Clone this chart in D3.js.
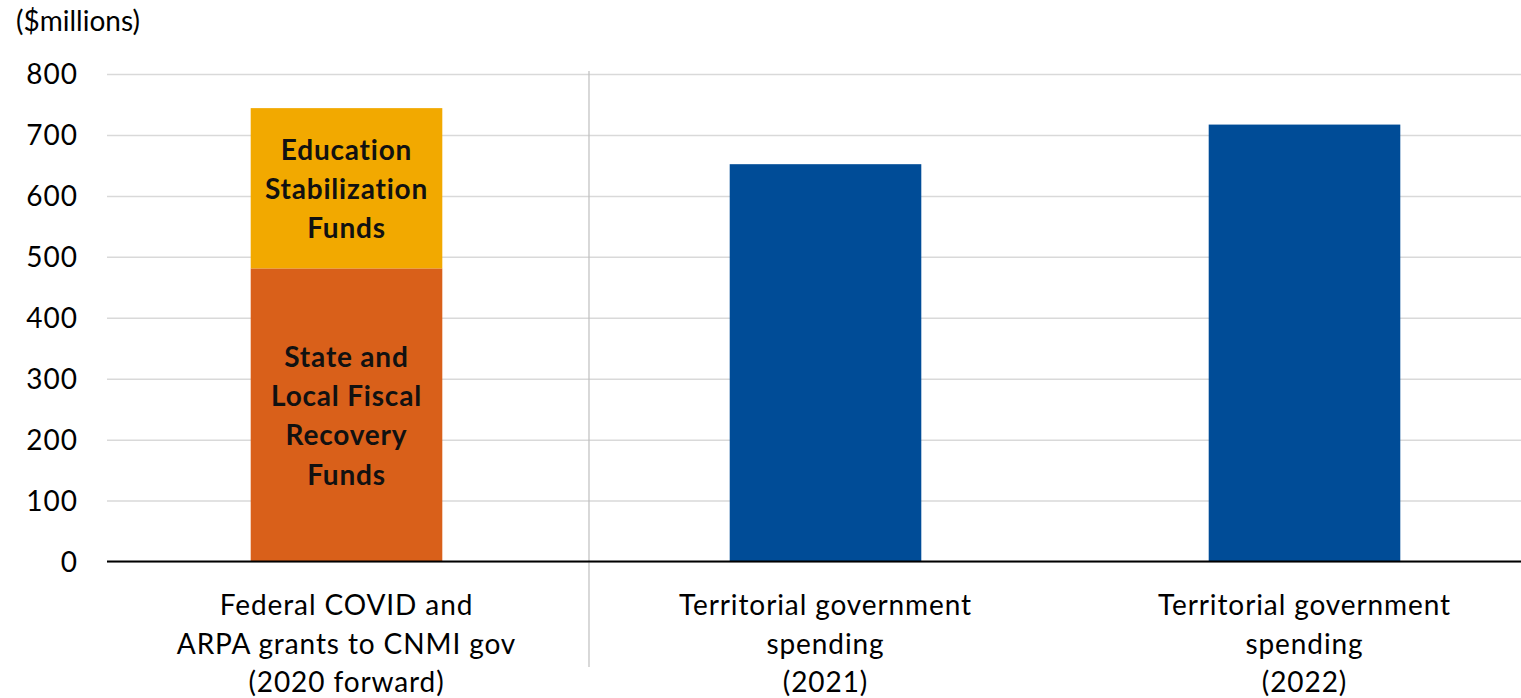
<!DOCTYPE html>
<html>
<head>
<meta charset="utf-8">
<script src="https://cdn.jsdelivr.net/npm/d3@7"></script>
<style>
  html, body { margin: 0; padding: 0; background: #fff; }
  svg { display: block; }
  text { font-family: Lato, "Open Sans", sans-serif; fill: #000; }
</style>
</head>
<body>
<svg id="chart" width="1521" height="698"></svg>
<script>
// ---- data ----
const categories = ["federal", "terr2021", "terr2022"];
const categoryLabels = [
  ["Federal COVID and", "ARPA grants to CNMI gov", "(2020 forward)"],
  ["Territorial government", "spending", "(2021)"],
  ["Territorial government", "spending", "(2022)"]
];
const stateLocalFunds = [481, 0, 0];
const educationFunds = [263, 0, 0];
const territorialSpending = [0, 652, 717];
const yTicks = [0, 100, 200, 300, 400, 500, 600, 700, 800];
const segmentLabels = [
  ["State and", "Local Fiscal", "Recovery", "Funds"],
  ["Education", "Stabilization", "Funds"],
  []
];
const unitLabel = "($millions)";

(function () {
  const svg = d3.select("#chart");
  const pL = 107, pR = 1544, pT = 74, pB = 561.5;
  const colors = ["#D9601A", "#F2A900", "#004C97"];

  const x = d3.scaleBand().domain(categories).range([pL, pR]).paddingInner(0.6).paddingOuter(0.3);
  const y = d3.scaleLinear().domain([0, 800]).range([pB, pT]);

  // gridlines
  const grid = svg.append("g")
    .attr("transform", `translate(${pL},0)`)
    .call(d3.axisLeft(y).tickValues(yTicks).tickSize(-(pR - pL)).tickFormat(""));
  grid.select(".domain").remove();
  grid.selectAll("line").attr("stroke", "#d9d9d9").attr("stroke-width", 1.5);

  // y tick labels
  const yAxis = svg.append("g")
    .attr("transform", `translate(${pL},0)`)
    .call(d3.axisLeft(y).tickValues(yTicks).tickSize(0).tickPadding(29));
  yAxis.select(".domain").remove();
  yAxis.selectAll("text")
    .style("font-size", "28px")
    .style("font-family", "Lato, sans-serif")
    .style("letter-spacing", "1px")
    .attr("dy", "0.35em")
    .style("fill", "#000");

  const rows = categories.map((c, i) => ({
    cat: c, s0: stateLocalFunds[i], s1: educationFunds[i], s2: territorialSpending[i]
  }));
  const stack = d3.stack().keys(["s0", "s1", "s2"])(rows);

  svg.append("g").selectAll("g").data(stack).join("g")
    .attr("fill", (d, i) => colors[i])
    .selectAll("rect").data(d => d.filter(p => p[1] - p[0] > 0)).join("rect")
    .attr("x", d => x(d.data.cat))
    .attr("width", x.bandwidth())
    .attr("y", d => y(d[1]))
    .attr("height", d => y(d[0]) - y(d[1]));

  stack.forEach((layer, li) => {
    const lines = segmentLabels[li];
    if (!lines.length) return;
    const p = layer[0];
    const cx = x(p.data.cat) + x.bandwidth() / 2;
    const cy = (y(p[0]) + y(p[1])) / 2;
    const lh = 39.3;
    const t = svg.append("text")
      .attr("text-anchor", "middle")
      .style("font-size", "28px")
      .style("font-weight", "bold")
      .style("letter-spacing", "0.8px")
      .style("fill", "#111");
    lines.forEach((ln, k) => {
      t.append("tspan")
        .attr("x", cx)
        .attr("y", cy + 1 + (k - (lines.length - 1) / 2) * lh)
        .attr("dy", "0.35em")
        .text(ln);
    });
  });

  const divX = (x(categories[0]) + x.bandwidth() + x(categories[1])) / 2 + 3;
  svg.append("line")
    .attr("x1", divX).attr("x2", divX)
    .attr("y1", 71).attr("y2", 667)
    .attr("stroke", "#bfbfbf").attr("stroke-width", 1.2);

  svg.append("line")
    .attr("x1", pL).attr("x2", pR)
    .attr("y1", y(0)).attr("y2", y(0))
    .attr("stroke", "#000").attr("stroke-width", 2);

  categories.forEach((c, i) => {
    const cx = x(c) + x.bandwidth() / 2;
    const t = svg.append("text").attr("text-anchor", "middle")
      .style("font-size", "28px").style("letter-spacing", "0.9px");
    categoryLabels[i].forEach((ln, k) => {
      t.append("tspan").attr("x", cx).attr("y", 615 + k * 38.5).text(ln);
    });
  });

  svg.append("text").attr("x", 16).attr("y", 31).style("font-size", "28px").text(unitLabel);
})();
</script>
</body>
</html>
